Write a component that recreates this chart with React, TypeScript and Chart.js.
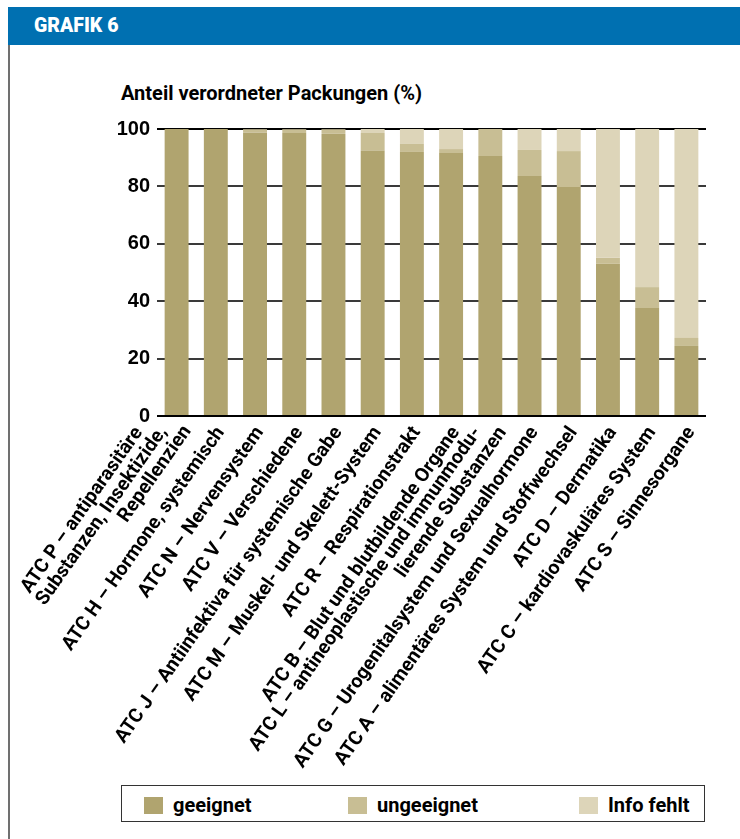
import React, { useEffect, useRef } from "react";
import { Chart, registerables } from "chart.js";

Chart.register(...registerables);

const categories: (string | string[])[] = [
  ["ATC P – antiparasitäre", "Substanzen, Insektizide,", "Repellenzien"],
  "ATC H – Hormone, systemisch",
  "ATC N – Nervensystem",
  "ATC V – Verschiedene",
  "ATC J – Antiinfektiva für systemische Gabe",
  "ATC M – Muskel- und Skelett-System",
  "ATC R – Respirationstrakt",
  "ATC B – Blut und blutbildende Organe",
  ["ATC L – antineoplastische und immunmodu-", "lierende Substanzen"],
  "ATC G – Urogenitalsystem und Sexualhormone",
  "ATC A – alimentäres System und Stoffwechsel",
  "ATC D – Dermatika",
  "ATC C – kardiovaskuläres System",
  "ATC S – Sinnesorgane",
];

const geeignet = [100, 100, 98.7, 98.6, 98.3, 92.4, 92.0, 91.6, 90.6, 83.6, 79.8, 53.0, 37.6, 24.4];
const ungeeignet = [0, 0, 1.2, 1.3, 1.6, 6.2, 2.8, 1.4, 9.4, 9.1, 12.5, 2.1, 7.3, 2.8];
const infoFehlt = [0, 0, 0.1, 0.1, 0.1, 1.4, 5.2, 7.0, 0, 7.3, 7.7, 44.9, 55.1, 72.8];

const seriesNames = ["geeignet", "ungeeignet", "Info fehlt"];
const seriesColors = ["#B0A46F", "#C8BE94", "#DDD5B9"];
const yTicks = [0, 20, 40, 60, 80, 100];

const FONT = "Roboto, 'Liberation Sans', sans-serif";
const SLOTS = 3;

const linesOf = (i: number): string[] => {
  const lab = categories[i];
  return Array.isArray(lab) ? lab : [lab];
};
// line height per label (only affects placement of the rotated text block)
const lineHeightFor = (i: number) => {
  const n = linesOf(i).length;
  return n === 1 ? 0.9 : n === 2 ? 1.05 : 1.0;
};

export default function App() {
  const ref = useRef<HTMLCanvasElement | null>(null);

  useEffect(() => {
    if (!ref.current) return;
    const chart = new Chart(ref.current, {
      type: "bar",
      data: {
        labels: categories,
        datasets: [geeignet, ungeeignet, infoFehlt].map((d, i) => ({
          label: seriesNames[i],
          data: d,
          backgroundColor: seriesColors[i],
          borderWidth: 0,
          barPercentage: 0.61,
          categoryPercentage: 1,
        })),
      },
      options: {
        responsive: false,
        animation: false,
        devicePixelRatio: 1,
        layout: { padding: { top: 19, right: 24, left: 0, bottom: 0 } },
        plugins: { legend: { display: false }, tooltip: { enabled: false } },
        scales: {
          x: {
            stacked: true,
            grid: { display: false, drawTicks: false },
            border: { display: false },
            ticks: {
              autoSkip: false,
              minRotation: 55,
              maxRotation: 55,
              padding: -16,
              labelOffset: -21,
              color: "#000",
              font: (ctx: any) => ({
                family: FONT,
                size: 19.5,
                weight: "bold",
                lineHeight: lineHeightFor(ctx.index ?? 0),
              }),
              callback: function (this: any, _v: any, index: number) {
                const lines = linesOf(index);
                if (lines.length === 1) return ["", "", lines[0] + " "];
                const padded = [...Array(SLOTS - lines.length).fill(""), ...lines];
                return padded.map((l, j) => (l ? l + "   ".repeat(SLOTS - 1 - j) : ""));
              },
            },
            afterFit: (scale: any) => {
              scale.height = 394;
              scale.paddingLeft = 0;
              scale.paddingRight = 0;
            },
          },
          y: {
            stacked: true,
            min: 0,
            max: 100,
            afterBuildTicks: (scale: any) => {
              scale.ticks = yTicks.map((v) => ({ value: v }));
            },
            grid: {
              drawTicks: false,
              lineWidth: 2,
              color: (ctx: any) =>
                ctx.tick && (ctx.tick.value === 0 || ctx.tick.value === 100) ? "#000" : "#3a3a3a",
            },
            border: { display: false },
            ticks: {
              padding: 7,
              color: "#000",
              font: { family: "'Liberation Sans', Arial, sans-serif", size: 20, weight: "bold" },
            },
            afterFit: (scale: any) => {
              scale.width = 147;
            },
          },
        },
      },
    });
    return () => chart.destroy();
  }, []);

  const legendItems = [
    { swatch: 144, text: 173 },
    { swatch: 348, text: 377 },
    { swatch: 579, text: 608 },
  ];

  return (
    <div
      style={{
        position: "absolute",
        left: 0,
        top: 0,
        width: 740,
        height: 839,
        overflow: "hidden",
        background: "#fff",
        fontFamily: FONT,
      }}
    >
      <div
        style={{
          position: "absolute",
          left: 8,
          top: 7,
          width: 732,
          height: 38,
          background: "#0070B1",
        }}
      />
      <div
        style={{
          position: "absolute",
          left: 34,
          top: 16,
          fontSize: 19.5,
          lineHeight: "20px",
          fontWeight: 900,
          color: "#fff",
        }}
      >
        GRAFIK 6
      </div>
      <div
        style={{
          position: "absolute",
          left: 8,
          top: 45,
          width: 2,
          height: 794,
          background: "#707070",
        }}
      />
      <div
        style={{
          position: "absolute",
          left: 121,
          top: 82,
          fontSize: 20,
          lineHeight: "22px",
          fontWeight: "bold",
          color: "#000",
          whiteSpace: "nowrap",
        }}
      >
        Anteil verordneter Packungen (%)
      </div>
      <canvas
        ref={ref}
        width={720}
        height={700}
        style={{ position: "absolute", left: 10, top: 110, width: 720, height: 700 }}
      />
      <div
        style={{
          position: "absolute",
          left: 121,
          top: 785,
          width: 584,
          height: 37,
          border: "1.5px solid #333",
          boxSizing: "border-box",
          background: "#fff",
        }}
      />
      {seriesNames.map((name, i) => (
        <React.Fragment key={name}>
          <div
            style={{
              position: "absolute",
              left: legendItems[i].swatch,
              top: 797,
              width: 19,
              height: 17,
              background: seriesColors[i],
            }}
          />
          <div
            style={{
              position: "absolute",
              left: legendItems[i].text,
              top: 794,
              fontSize: 20,
              lineHeight: "22px",
              fontWeight: "bold",
              color: "#000",
              whiteSpace: "nowrap",
            }}
          >
            {name}
          </div>
        </React.Fragment>
      ))}
    </div>
  );
}
